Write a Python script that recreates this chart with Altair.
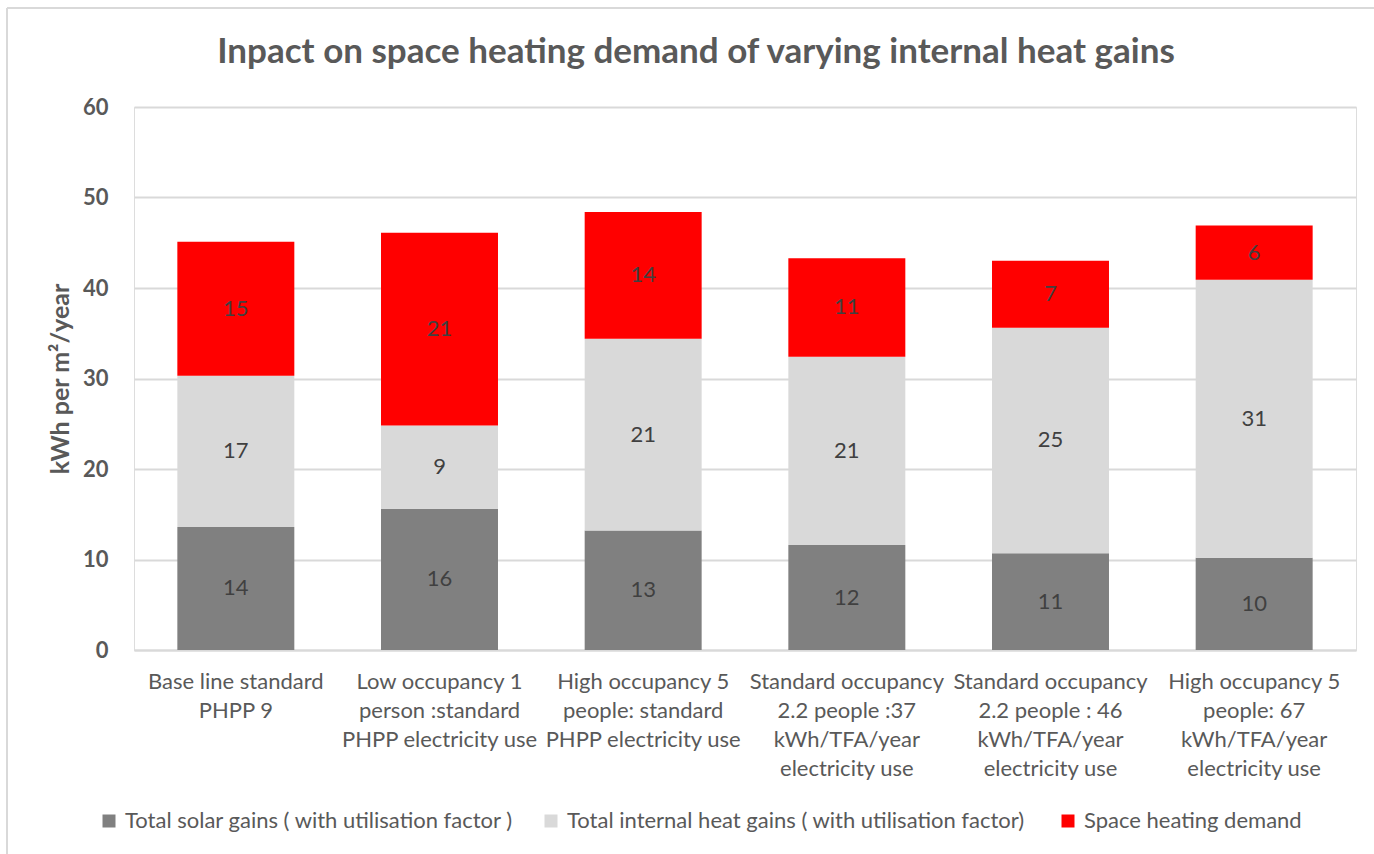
import altair as alt
import pandas as pd

TITLE = "Inpact on space heating demand of varying internal heat gains"

# Scenario names, one list entry per text line of the axis label
scenario_lines = [
    ["Base line standard", "PHPP 9"],
    ["Low occupancy 1", "person :standard", "PHPP electricity use"],
    ["High occupancy 5", "people: standard", "PHPP electricity use"],
    ["Standard occupancy", "2.2 people :37", "kWh/TFA/year", "electricity use"],
    ["Standard  occupancy", "2.2 people : 46", "kWh/TFA/year", "electricity use"],
    ["High occupancy 5", "people: 67", "kWh/TFA/year", "electricity use"],
]

series_names = [
    "Total solar gains ( with utilisation factor )",
    "Total internal heat  gains ( with utilisation factor)",
    "Space heating demand",
]
series_colors = ["#808080", "#d9d9d9", "#ff0000"]

# kWh per m2 per year
solar_gains = [13.6, 15.6, 13.2, 11.6, 10.7, 10.2]
internal_gains = [16.7, 9.2, 21.2, 20.8, 24.9, 30.7]
heating_demand = [14.8, 21.3, 14.0, 10.9, 7.4, 6.0]

y_ticks = [0, 10, 20, 30, 40, 50, 60]

scenarios = ["\n".join(lines) for lines in scenario_lines]
rows = []
for i, sc in enumerate(scenarios):
    for k, vals in enumerate([solar_gains, internal_gains, heating_demand]):
        rows.append({"scenario": sc, "series": series_names[k], "order": k, "value": vals[i]})
df = pd.DataFrame(rows)

FONT = "Lato"
TXT = "#595959"
FRAME = "#d9d9d9"

x_enc = alt.X(
    "scenario:N",
    sort=scenarios,
    title=None,
    scale=alt.Scale(paddingInner=0.4256, paddingOuter=0.2128),
    axis=alt.Axis(
        labelExpr="split(datum.value, '\\n')",
        labelAngle=0,
        labelFont=FONT,
        labelFontSize=22,
        labelColor=TXT,
        labelLineHeight=29,
        labelPadding=21,
        labelLimit=400,
        labelOverlap=False,
        labelBound=False,
        ticks=False,
        domainColor=FRAME,
        domainWidth=2,
        grid=False,
    ),
)

y_scale = alt.Scale(domain=[0, 60], nice=False)

bars = alt.Chart(df).mark_bar().encode(
    x=x_enc,
    y=alt.Y(
        "value:Q",
        stack="zero",
        scale=y_scale,
        title="kWh per m²/year",
        axis=alt.Axis(
            values=y_ticks,
            grid=True,
            gridColor=FRAME,
            gridWidth=2,
            domain=False,
            ticks=False,
            labelFont=FONT,
            labelFontSize=22,
            labelFontWeight="bold",
            labelColor=TXT,
            labelPadding=26,
            titleFont=FONT,
            titleFontSize=25,
            titleFontWeight="bold",
            titleColor=TXT,
            titleX=-74,
            titleY=271.5,
            titleAngle=270,
            titleAlign="center",
            titleBaseline="middle",
        ),
    ),
    color=alt.Color(
        "series:N",
        sort=series_names,
        scale=alt.Scale(domain=series_names, range=series_colors),
        legend=alt.Legend(
            title=None,
            orient="none",
            direction="horizontal",
            legendX=-36,
            legendY=703,
            symbolType="square",
            symbolSize=169,
            symbolStrokeWidth=0,
            labelFont=FONT,
            labelFontSize=22,
            labelColor=TXT,
            labelOffset=5,
            columnPadding=26,
            labelLimit=600,
        ),
    ),
    order=alt.Order("order:Q", sort="ascending"),
)

labels = (
    alt.Chart(df)
    .transform_window(
        cum="sum(value)",
        groupby=["scenario"],
        sort=[alt.SortField("order", order="ascending")],
        frame=[None, 0],
    )
    .transform_calculate(mid="datum.cum - datum.value / 2")
    .mark_text(font=FONT, fontSize=22, color="#404040", baseline="middle")
    .encode(
        x=alt.X("scenario:N", sort=scenarios),
        y=alt.Y("mid:Q", scale=y_scale),
        text=alt.Text("value:Q", format=".0f"),
    )
)

# Chart heading, centred over the whole canvas
heading = alt.Chart().mark_text(
    font=FONT, fontSize=35, fontWeight="bold", color=TXT,
    align="center", baseline="alphabetic",
).encode(x=alt.value(562), y=alt.value(-44), text=alt.value(TITLE))

# Thin outer frame of the chart area (left and top edges)
frame_left = alt.Chart().mark_rule(color=FRAME, strokeWidth=2).encode(
    x=alt.value(-127), y=alt.value(-99), y2=alt.value(760)
)
frame_top = alt.Chart().mark_rule(color=FRAME, strokeWidth=2).encode(
    x=alt.value(-127), x2=alt.value(1260), y=alt.value(-99)
)

chart = (
    alt.layer(bars, labels, heading, frame_left, frame_top)
    .properties(
        width=1222,
        height=543,
        autosize=alt.AutoSizeParams(type="none"),
        padding={"left": 134, "top": 107, "right": 18, "bottom": 204},
    )
    .configure_view(stroke="transparent", strokeWidth=0)
    .configure(background="white")
)

chart.save("out.html", embed_options={"renderer": "svg", "actions": False})
